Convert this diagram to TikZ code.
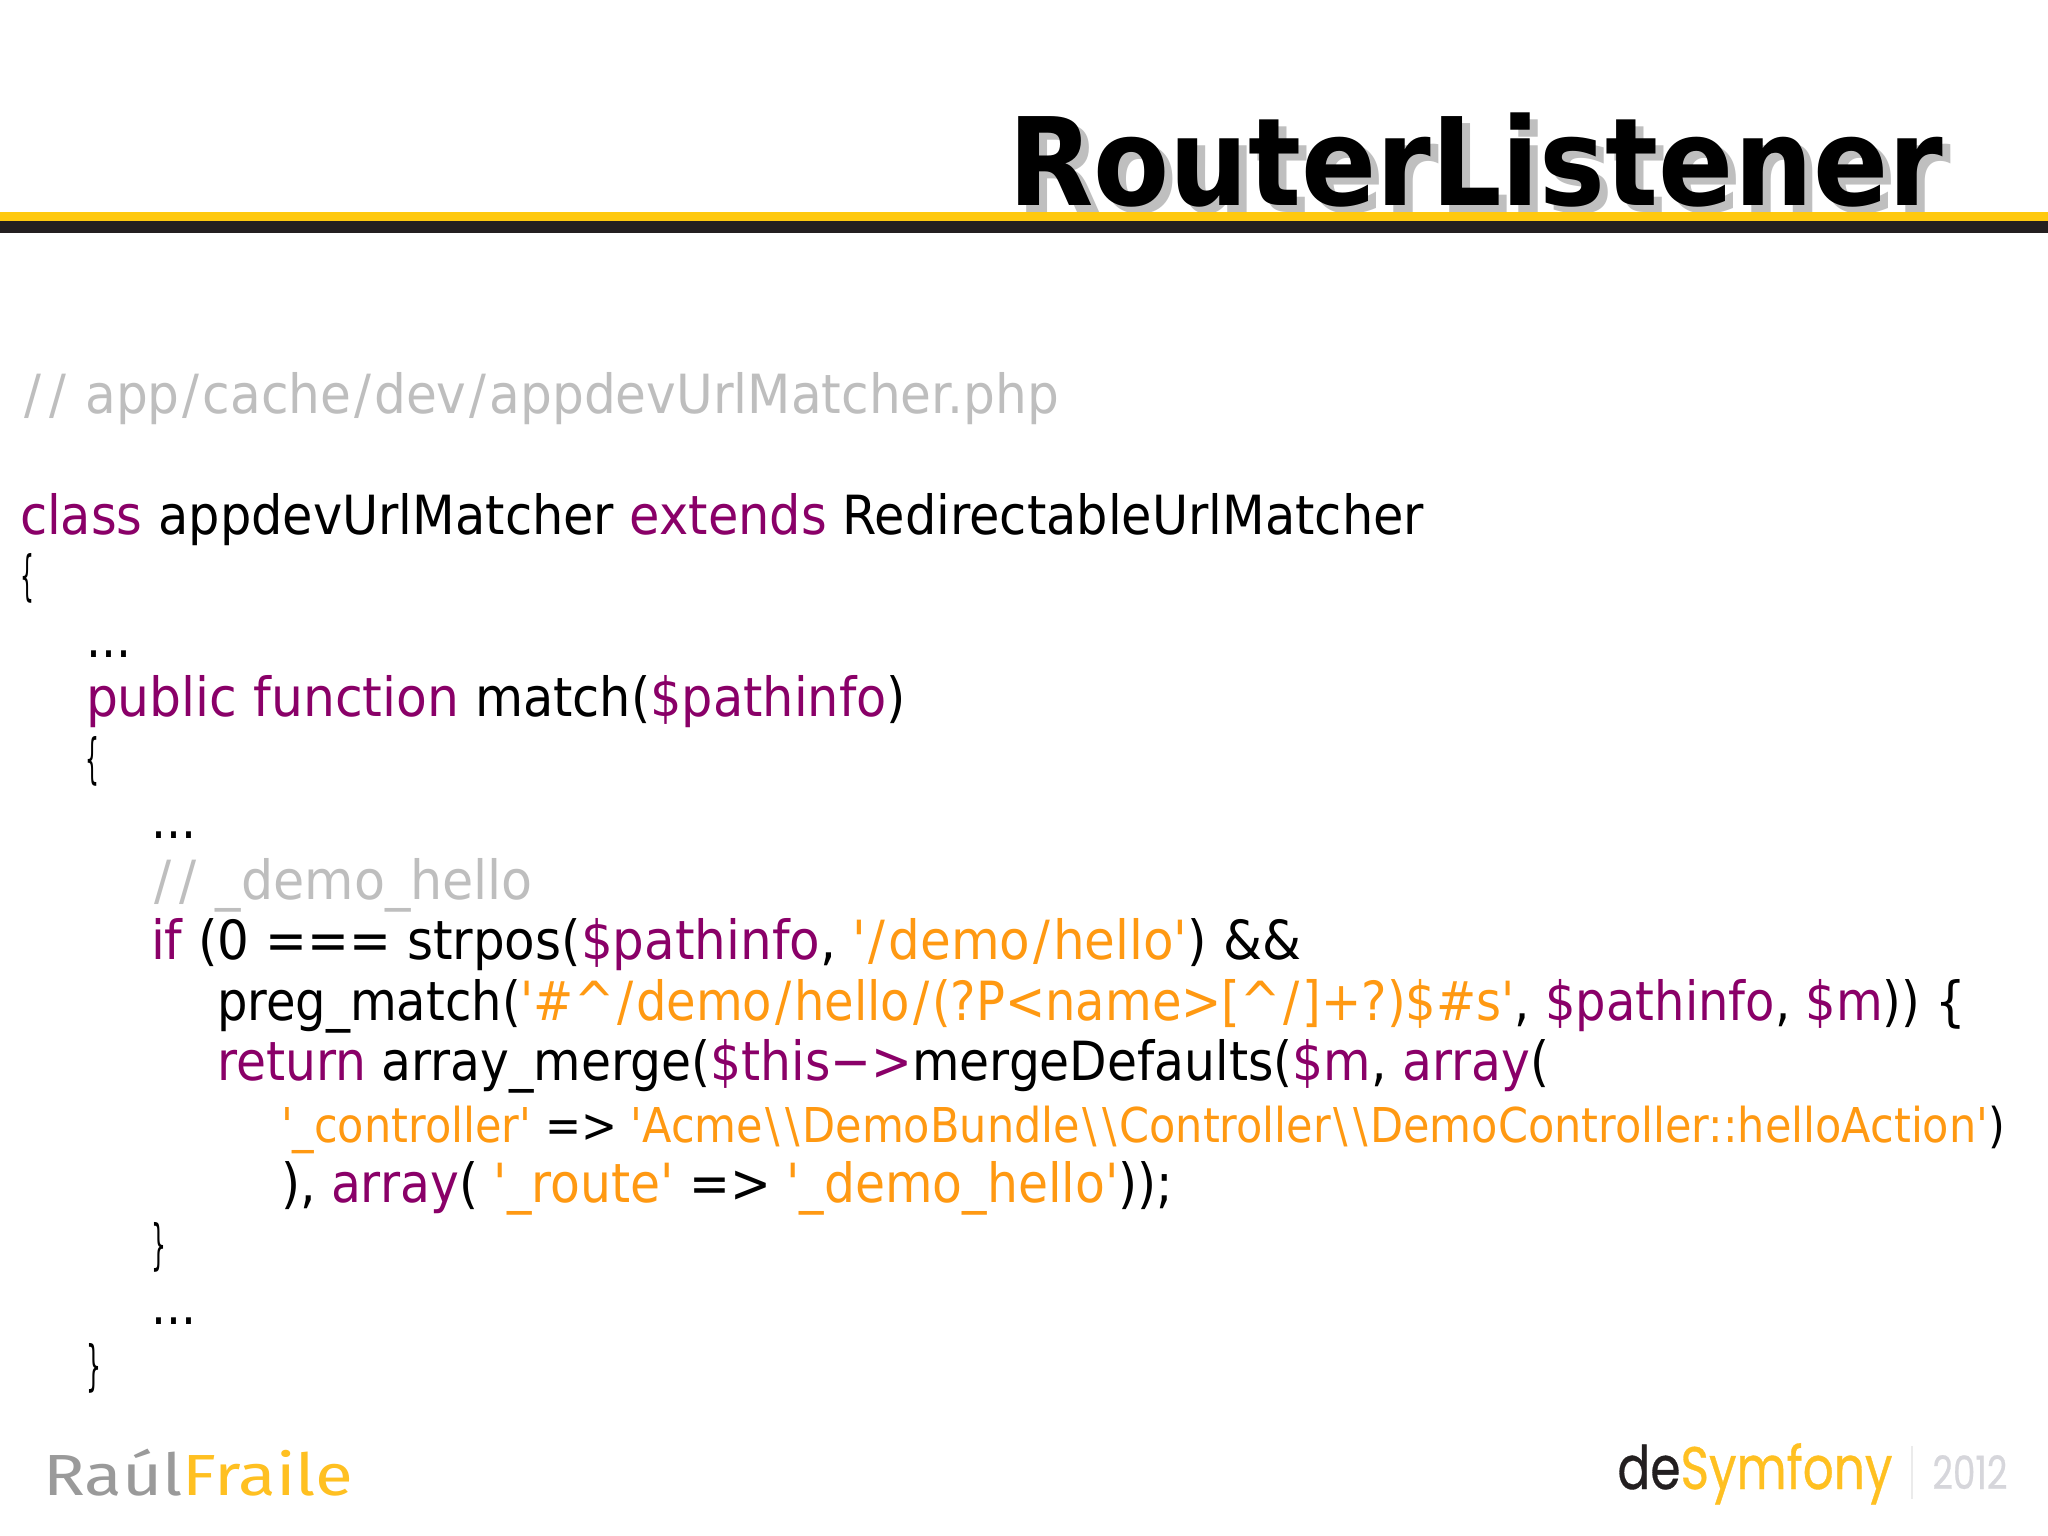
\documentclass[tikz,border=0pt]{standalone}
\usepackage{fontspec}
\usepackage{graphicx}
\newfontfamily\codefont{DejaVu Sans}
\newfontfamily\titlefont{DejaVu Sans Bold}
\newfontfamily\logofont[FakeBold=0.6]{Poppins}
\newfontfamily\handfont{Fira Sans}
\definecolor{kw}{HTML}{8A0068}
\definecolor{str}{HTML}{FF9912}
\definecolor{cmt}{HTML}{BEBEBE}
\definecolor{barY}{HTML}{FFC90F}
\definecolor{barD}{HTML}{231F20}
\definecolor{logoY}{HTML}{FFC021}
\definecolor{logoG}{HTML}{9A9A9A}
\definecolor{yearG}{HTML}{D6D6DB}
\newlength{\pxu}\setlength{\pxu}{0.5pt}
\newcommand{\K}[1]{\textcolor{kw}{#1}}
\newcommand{\Sg}[1]{\textcolor{str}{#1}}
\newcommand{\Q}{\textquotesingle}
\newcommand{\Sl}{\kern.06em/\kern.06em}
\newcommand{\Bs}{\kern.06em\textbackslash\kern.06em}
\newcommand{\fitline}[3]{\resizebox{#1\pxu}{\height}{\fontsize{#2}{#2}\selectfont #3}}
\tikzset{
  txt/.style={anchor=base west,inner sep=0pt,outer sep=0pt,font=\codefont},
}
\newcommand{\codeline}[6]{\node[txt] (#1) at (#2,#3) {\fitline{#4}{#5}{#6}};}
\begin{document}
\begin{tikzpicture}[x=0.5pt,y=-0.5pt]
\useasboundingbox (0,0) rectangle (2048,1535);
\fill[white] (0,0) rectangle (2048,1535);
% title
\node[txt,text=black!25] (titleshadow) at (1016,213) {\titlefont\fitline{935}{61pt}{RouterListener}};
\fill[barY] (0,212) rectangle (2048,221);
\fill[barD] (0,221) rectangle (2048,233);
\node[txt,text=black] (title) at (1008,206) {\titlefont\fitline{935}{61pt}{RouterListener}};
% code
\codeline{l1}{22}{413}{1037}{27pt}{\textcolor{cmt}{\kern.05em/\kern.16em/\kern.06em{} app\Sl cache\Sl dev\Sl appdevUrlMatcher.php}}
\codeline{l2}{20}{534}{1404}{27pt}{\K{class} appdevUrlMatcher \K{extends} RedirectableUrlMatcher}
\codeline{l3}{20}{594}{14}{27pt}{\{}
\codeline{l4}{86}{657}{45}{27pt}{...}
\codeline{l5}{86}{716}{820}{27pt}{\K{\scalebox{1.02}[1]{public function}} match(\K{\$pathinfo})}
\codeline{l6}{85}{777}{14}{27pt}{\{}
\codeline{l7}{151}{838}{45}{27pt}{...}
\codeline{l8}{152}{899}{381}{27pt}{\textcolor{cmt}{\kern.05em/\kern.16em/\kern.06em{} \_demo\_hello}}
\codeline{l9}{151}{959}{1150}{27pt}{\K{if} (0 === strpos(\K{\$pathinfo}, \Sg{\Q\Sl demo\Sl hello\Q}) \&\&}
\codeline{l10}{217}{1020}{1749}{27pt}{preg\_match(\Sg{\Q\#\textasciicircum\Sl demo\Sl hello\Sl (?P<name>[\textasciicircum\Sl]+?)\$\#s\Q}, \K{\$pathinfo}, \K{\$m})) \{}
\codeline{l11}{217}{1080}{1332}{27pt}{\K{return} array\_merge(\K{\$this−>}mergeDefaults(\K{\$m}, \K{array}(}
\codeline{l12}{281}{1142}{1724}{24pt}{\Sg{\Q\_controller\Q} => \Sg{\Q Acme\Bs\Bs DemoBundle\Bs\Bs Controller\Bs\Bs DemoController::helloAction\Q})}
\codeline{l13}{281}{1202}{892}{27pt}{), \K{array}( \Sg{\Q\_route\Q} => \Sg{\Q\_demo\_hello\Q}));}
\codeline{l14}{151}{1263}{15}{27pt}{\}}
\codeline{l15}{151}{1324}{45}{27pt}{...}
\codeline{l16}{86}{1384}{15}{27pt}{\}}
% footer
\node[anchor=base west,inner sep=0pt] (raul) at (43,1495) {\handfont\fitline{310}{29pt}{\textcolor{logoG}{Raúl}\textcolor{logoY}{Fraile}}};
\node[anchor=base west,inner sep=0pt] (desym) at (1617,1489) {\logofont\fitline{275}{30pt}{\textcolor{barD}{de}\textcolor{logoY}{Symfony}}};
\node[anchor=base west,inner sep=0pt] (year) at (1932,1489) {\logofont\fitline{75}{23pt}{\textcolor{yearG}{2012}}};
\draw[black!8,line width=1pt] (1912,1446) -- (1912,1499);
\end{tikzpicture}
\end{document}
